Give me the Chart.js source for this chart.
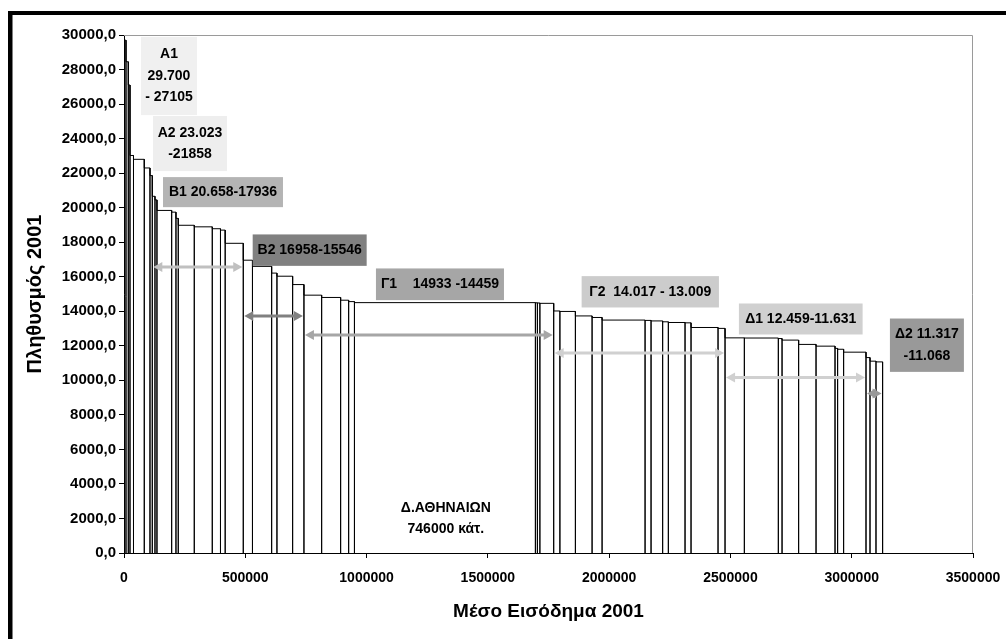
<!DOCTYPE html>
<html>
<head>
<meta charset="utf-8">
<script src="https://cdn.jsdelivr.net/npm/chart.js@4.4.1/dist/chart.umd.min.js"></script>
<style>
  html, body { margin: 0; padding: 0; background: #fff; }
  #wrap { width: 1006px; height: 639px; }
</style>
</head>
<body>
<div id="wrap"><canvas id="chart" width="1006" height="639"></canvas></div>
<script>
// --- data: population of each municipality (bar width) and its mean income (bar height) ---
const populations = [
  8200, 9500, 7000, 14400, 44500, 23500, 9500, 11100, 8200, 60600,
  17700, 9500, 66000, 74200, 33800, 19400, 74600, 37900, 79100, 21800,
  64700, 46600, 73000, 78300, 33000, 23900, 746000, 8200, 10300, 56900,
  25600, 63900, 68800, 41200, 177200, 24700, 47800, 23500, 68800, 24700,
  111300, 28900, 79600, 140100, 15300, 68400, 71700, 78300, 10700, 24700,
  92300, 16500, 24700, 27200
];
const incomes = [
  29700, 28450, 27105, 23023, 22800, 22300, 21858, 20658, 20450, 19840,
  19740, 19380, 18980, 18890, 18780, 18700, 17936, 16958, 16600, 16210,
  16030, 15546, 14933, 14800, 14640, 14560, 14500, 14490, 14480, 14459,
  14017, 13990, 13730, 13640, 13490, 13470, 13440, 13390, 13350, 13330,
  13060, 13009, 12459, 12450, 12420, 12330, 12080, 11980, 11850, 11800,
  11631, 11317, 11110, 11068
];
const xTicks = [0, 500000, 1000000, 1500000, 2000000, 2500000, 3000000, 3500000];
const yTicks = [0, 2000, 4000, 6000, 8000, 10000, 12000, 14000, 16000, 18000, 20000, 22000, 24000, 26000, 28000, 30000];

// groups: first/last bar index, arrow level (income units) and colour
const groupNames = ['B1', 'B2', 'Γ1', 'Γ2', 'Δ1', 'Δ2'];
const groupFirst = [7, 17, 22, 30, 42, 51];
const groupLast = [16, 21, 29, 41, 50, 53];
const arrowLevel = [16570, 13720, 12620, 11590, 10160, 9240];
const arrowColor = ['#c0c0c0', '#808080', '#a6a6a6', '#d0d0d0', '#d0d0d0', '#999999'];

// label boxes (data units: x = cumulative population, y = income)
const labelBoxes = [
  { lines: ['A1', '29.700', '- 27105'], x0: 70000, x1: 301000, y0: 29890, y1: 25360, bg: '#f0f0f0' },
  { lines: ['A2 23.023', '-21858'], x0: 119500, x1: 424600, y0: 25310, y1: 22120, bg: '#eeeeee' },
  { lines: ['B1 20.658-17936'], x0: 160800, x1: 655400, y0: 21770, y1: 20030, bg: '#b4b4b4' },
  { lines: ['B2 16958-15546'], x0: 530500, x1: 1000400, y0: 18450, y1: 16630, bg: '#808080' },
  { lines: ['Γ1    14933 -14459'], x0: 1038700, x1: 1566400, y0: 16480, y1: 14645, bg: '#a6a6a6' },
  { lines: ['Γ2  14.017 - 13.009'], x0: 1886600, x1: 2452600, y0: 16035, y1: 14220, bg: '#cccccc' },
  { lines: ['Δ1 12.459-11.631'], x0: 2535000, x1: 3044900, y0: 14450, y1: 12655, bg: '#d0d0d0' },
  { lines: ['Δ2 11.317', '-11.068'], x0: 3157500, x1: 3462500, y0: 13580, y1: 10490, bg: '#999999' }
];
const athensLines = ['Δ.ΑΘΗΝΑΙΩΝ', '746000 κάτ.'];
const athensPos = { x: 1327000, y: [2590, 1370] };

// bar edges along x (cumulative population)
const edges = [0];
populations.forEach(p => edges.push(edges[edges.length - 1] + p));

// one outline running over all the bars
const outline = [];
incomes.forEach((h, i) => {
  outline.push({ x: edges[i], y: 0 }, { x: edges[i], y: h }, { x: edges[i + 1], y: h }, { x: edges[i + 1], y: 0 });
});

const FONT = '"Liberation Sans", Arial, sans-serif';
Chart.defaults.font.family = FONT;
Chart.defaults.font.weight = 'bold';
Chart.defaults.font.size = 14;
Chart.defaults.color = '#000';

// white page + thick frame (top and left)
const framePlugin = {
  id: 'frame',
  beforeDraw(chart) {
    const ctx = chart.ctx;
    ctx.save();
    ctx.fillStyle = '#fff';
    ctx.fillRect(0, 0, chart.width, chart.height);
    ctx.fillStyle = '#000';
    ctx.fillRect(8, 11, 4.5, chart.height - 11);
    ctx.fillRect(8, 11, chart.width - 8, 4);
    ctx.restore();
  }
};

function drawArrow(ctx, x0, x1, y, color) {
  const hl = 9, hw = 5;
  ctx.strokeStyle = color;
  ctx.fillStyle = color;
  ctx.lineWidth = 3;
  if (x1 - x0 > 2 * hl) {
    ctx.beginPath();
    ctx.moveTo(x0 + hl - 1, y);
    ctx.lineTo(x1 - hl + 1, y);
    ctx.stroke();
  }
  ctx.beginPath();
  ctx.moveTo(x0, y); ctx.lineTo(x0 + hl, y - hw); ctx.lineTo(x0 + hl, y + hw); ctx.closePath();
  ctx.fill();
  ctx.beginPath();
  ctx.moveTo(x1, y); ctx.lineTo(x1 - hl, y - hw); ctx.lineTo(x1 - hl, y + hw); ctx.closePath();
  ctx.fill();
}

// plot border, arrows, label boxes and texts
const notesPlugin = {
  id: 'notes',
  afterDatasetsDraw(chart) {
    const ctx = chart.ctx;
    const xs = chart.scales.x, ys = chart.scales.y;
    const area = chart.chartArea;
    ctx.save();

    ctx.strokeStyle = '#9a9a9a';
    ctx.lineWidth = 1;
    ctx.beginPath();
    ctx.moveTo(area.left, area.top + 0.5);
    ctx.lineTo(area.right - 0.5, area.top + 0.5);
    ctx.lineTo(area.right - 0.5, area.bottom);
    ctx.stroke();

    groupNames.forEach((g, k) => {
      const x0 = xs.getPixelForValue(edges[groupFirst[k]]) + 1;
      const x1 = xs.getPixelForValue(edges[groupLast[k] + 1]) - 1;
      drawArrow(ctx, x0, x1, ys.getPixelForValue(arrowLevel[k]), arrowColor[k]);
    });

    ctx.font = 'bold 14px ' + FONT;
    ctx.textAlign = 'center';
    ctx.textBaseline = 'middle';
    labelBoxes.forEach(b => {
      const L = xs.getPixelForValue(b.x0), R = xs.getPixelForValue(b.x1);
      const T = ys.getPixelForValue(b.y0), B = ys.getPixelForValue(b.y1);
      ctx.fillStyle = b.bg;
      ctx.fillRect(L, T, R - L, B - T);
      ctx.fillStyle = '#000';
      const n = b.lines.length, cy = (T + B) / 2;
      b.lines.forEach((t, i) => ctx.fillText(t, (L + R) / 2, cy + (i - (n - 1) / 2) * 21.5));
    });

    ctx.fillStyle = '#000';
    athensLines.forEach((t, i) => {
      ctx.fillText(t, xs.getPixelForValue(athensPos.x), ys.getPixelForValue(athensPos.y[i]));
    });
    ctx.restore();
  }
};

new Chart(document.getElementById('chart'), {
  type: 'scatter',
  data: {
    datasets: [{
      data: outline,
      showLine: true,
      borderColor: '#000',
      borderWidth: 1,
      pointRadius: 0,
      fill: false,
      tension: 0
    }]
  },
  options: {
    responsive: false,
    animation: false,
    layout: { padding: { left: 14, top: 35, right: 33, bottom: 0 } },
    plugins: { legend: { display: false }, tooltip: { enabled: false } },
    scales: {
      x: {
        type: 'linear',
        min: 0,
        max: 3500000,
        afterFit(scale) {
          scale.height = 86;
          scale.paddingLeft = 0;
          scale.paddingRight = 0;
        },
        afterBuildTicks(scale) { scale.ticks = xTicks.map(v => ({ value: v })); },
        ticks: { padding: 12, maxRotation: 0, autoSkip: false, callback: v => String(v), font: { size: 14, weight: 'bold' } },
        grid: { drawOnChartArea: false, drawTicks: true, tickLength: 5, color: '#000' },
        border: { display: true, color: '#000', width: 1 },
        title: { display: true, text: 'Μέσο Εισόδημα 2001', font: { size: 19, weight: 'bold' }, padding: { top: 0, bottom: 16 } }
      },
      y: {
        min: 0,
        max: 30000,
        afterFit(scale) {
          scale.width = 110;
          scale.paddingTop = 0;
          scale.paddingBottom = 0;
        },
        afterBuildTicks(scale) { scale.ticks = yTicks.map(v => ({ value: v })); },
        ticks: { padding: 3, autoSkip: false, callback: v => v.toFixed(1).replace('.', ','), font: { size: 15, weight: 'bold' } },
        grid: { drawOnChartArea: false, drawTicks: true, tickLength: 5, color: '#000' },
        border: { display: true, color: '#000', width: 1 },
        title: { display: true, text: 'Πληθυσμός 2001', font: { size: 20, weight: 'bold' }, padding: { top: 9, bottom: 0 } }
      }
    }
  },
  plugins: [framePlugin, notesPlugin]
});
</script>
</body>
</html>
